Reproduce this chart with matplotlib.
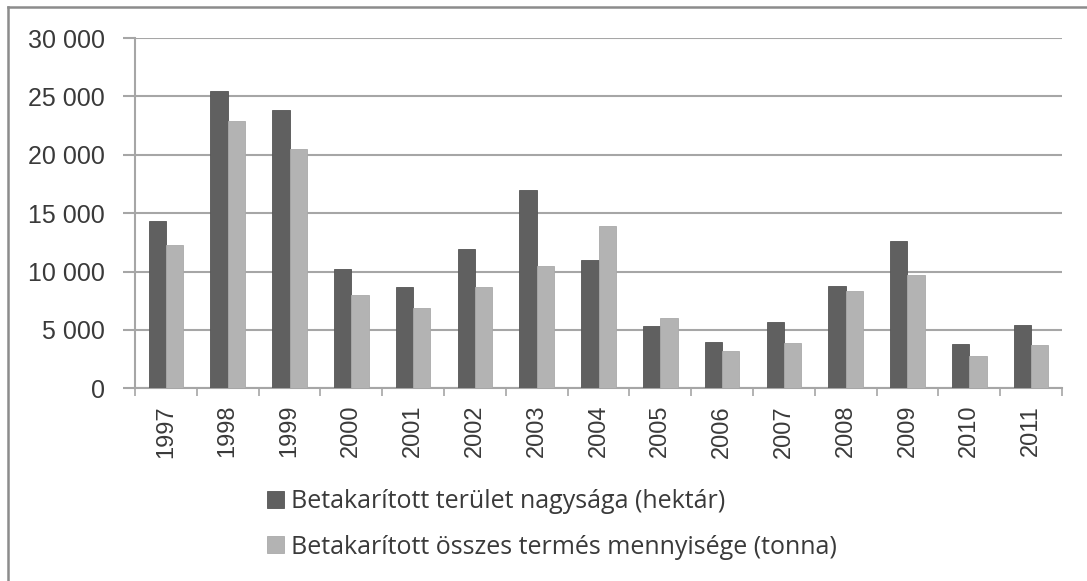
import matplotlib
matplotlib.use("Agg")
import matplotlib.pyplot as plt
import numpy as np
from matplotlib.lines import Line2D
from matplotlib.ticker import FixedLocator, FuncFormatter

years = ["1997", "1998", "1999", "2000", "2001", "2002", "2003", "2004",
         "2005", "2006", "2007", "2008", "2009", "2010", "2011"]
area_ha = [14300, 25450, 23850, 10250, 8700, 11950, 16950, 11000,
           5350, 4000, 5650, 8800, 12600, 3800, 5400]
harvest_t = [12300, 22900, 20500, 8000, 6900, 8700, 10450, 13900,
             6050, 3200, 3900, 8300, 9700, 2750, 3700]
label_area = "Betakarított terület nagysága (hektár)"
label_harvest = "Betakarított összes termés mennyisége (tonna)"
yticks = [0, 5000, 10000, 15000, 20000, 25000, 30000]

W, H = 1087, 581
fig = plt.figure(figsize=(W / 100, H / 100), dpi=100)
ax = fig.add_axes([135 / W, (H - 388.3) / H, (1062 - 135) / W, (388.3 - 38) / H])

x = np.arange(len(years))
bw = 0.28
grid_c = "#a6a6a6"
txt_c = "#3a3a3a"
b1 = ax.bar(x - bw / 2, area_ha, bw, color="#606060", edgecolor="#555555", linewidth=0.6,
            label=label_area, zorder=3)
b2 = ax.bar(x + bw / 2, harvest_t, bw, color="#b3b3b3", edgecolor="#aaaaaa", linewidth=0.6,
            label=label_harvest, zorder=3)

ax.set_xlim(-0.5, len(years) - 0.5)
ax.set_ylim(0, 30000)
ax.yaxis.set_major_locator(FixedLocator(yticks))
ax.yaxis.set_major_formatter(FuncFormatter(lambda v, p: f"{int(v):,}".replace(",", " ")))
ax.grid(axis="y", color=grid_c, linewidth=1.5, zorder=0)

ax.set_xticks(x)
ax.set_xticklabels(years, rotation=90, fontsize=17, color=txt_c, family="Liberation Sans")
ax.set_xticks(np.arange(len(years) + 1) - 0.5, minor=True)
ax.tick_params(axis="x", which="major", length=0, pad=12)
ax.tick_params(axis="x", which="minor", length=5.8, width=1.2, color=grid_c, direction="out")
ax.tick_params(axis="y", which="major", length=8.6, width=1.5, color=grid_c, pad=13,
               labelsize=18, labelcolor=txt_c)
for lab in ax.get_yticklabels():
    lab.set_family("Liberation Sans")

for s in ["top", "right"]:
    ax.spines[s].set_visible(False)
ax.spines["left"].set_color(grid_c)
ax.spines["bottom"].set_color(grid_c)
ax.spines["left"].set_linewidth(1.5)
ax.spines["bottom"].set_linewidth(1.5)

fig.legend(handles=[b1, b2], loc="upper left",
           bbox_to_anchor=(267 / W, (H - 489) / H), frameon=False,
           prop={"family": "Open Sans", "size": 18}, labelcolor=txt_c,
           handlelength=0.68, handleheight=0.68, handletextpad=0.28,
           labelspacing=0.82, borderpad=0, borderaxespad=0)

# outer chart frame (top and left edges visible)
fig.add_artist(Line2D([7.5 / W, 1.0], [1 - 7 / H, 1 - 7 / H], transform=fig.transFigure,
                      color="#8c8c8c", linewidth=1.8))
fig.add_artist(Line2D([7.5 / W, 7.5 / W], [0, 1 - 7 / H], transform=fig.transFigure,
                      color="#8c8c8c", linewidth=1.8))

fig.savefig("out.png", dpi=100)
